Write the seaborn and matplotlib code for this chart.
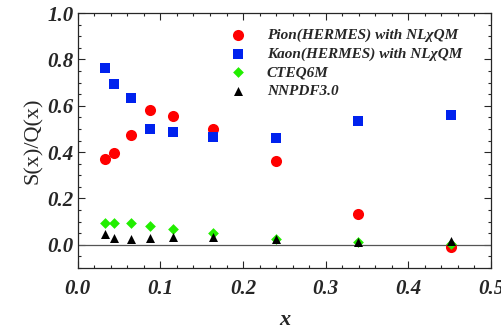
import numpy as np
import pandas as pd
import seaborn as sns
import matplotlib
matplotlib.use('Agg')
import matplotlib.pyplot as plt
from matplotlib.ticker import MultipleLocator

x_bins = [0.033, 0.044, 0.064, 0.087, 0.115, 0.164, 0.240, 0.339, 0.452]
pion = [0.37, 0.395, 0.475, 0.58, 0.555, 0.50, 0.36, 0.135, -0.01]
kaon = [0.765, 0.695, 0.635, 0.50, 0.485, 0.465, 0.46, 0.535, 0.56]
cteq = [0.096, 0.096, 0.093, 0.080, 0.067, 0.050, 0.027, 0.012, 0.003]
nnpdf = [0.047, 0.031, 0.026, 0.029, 0.034, 0.035, 0.023, 0.012, 0.016]

names = ['Pion(HERMES) with NL\u03c7QM', 'Kaon(HERMES) with NL\u03c7QM', 'CTEQ6M', 'NNPDF3.0']
series = [pion, kaon, cteq, nnpdf]
colors = ['#ff0000', '#0022ee', '#22ee00', '#000000']
markers = ['o', 's', 'D', '^']
sizes = [64, 50, 30, 42]

df = pd.DataFrame({
    'x': x_bins * len(names),
    'ratio': sum(series, []),
    'set': [n for n in names for _ in x_bins],
})

sns.set_style('ticks')
plt.rcParams['font.family'] = ['Liberation Serif', 'DejaVu Serif']

fig = plt.figure(figsize=(5.02, 3.35), dpi=100)
ax = fig.add_axes([0.155, 0.2, 0.823, 0.761])

ax.axhline(0, color='#555555', lw=0.9, zorder=1)
for n, c, m, s in zip(names, colors, markers, sizes):
    sns.scatterplot(data=df[df['set'] == n], x='x', y='ratio', color=c, marker=m,
                    s=s, linewidth=0, label=n, ax=ax, zorder=3)

ax.set_xlim(0, 0.5)
ax.set_ylim(-0.1, 1.0)
ax.xaxis.set_major_locator(MultipleLocator(0.1))
ax.xaxis.set_minor_locator(MultipleLocator(0.02))
ax.yaxis.set_major_locator(MultipleLocator(0.2))
ax.yaxis.set_minor_locator(MultipleLocator(0.05))
ax.tick_params(which='both', direction='in', top=True, right=True, width=0.8)
ax.tick_params(which='major', length=5)
ax.tick_params(which='minor', length=2.5)
for lab in ax.get_xticklabels() + ax.get_yticklabels():
    lab.set_fontsize(15)
    lab.set_fontweight('bold')
    lab.set_fontstyle('italic')
ax.tick_params(axis='x', pad=8)
ax.tick_params(axis='y', pad=3)
for sp in ax.spines.values():
    sp.set_linewidth(0.9)

ax.set_xlabel('x', fontsize=16, fontweight='bold', fontstyle='italic', labelpad=8)
ax.set_ylabel('S(x)/Q(x)', fontsize=16, labelpad=3)

leg = ax.legend(loc='upper right', bbox_to_anchor=(0.945, 0.965), frameon=False,
                handletextpad=0.9, borderaxespad=0, labelspacing=0.32,
                prop={'size': 11, 'weight': 'bold', 'style': 'italic'})

fig.savefig('out.png', dpi=100)
